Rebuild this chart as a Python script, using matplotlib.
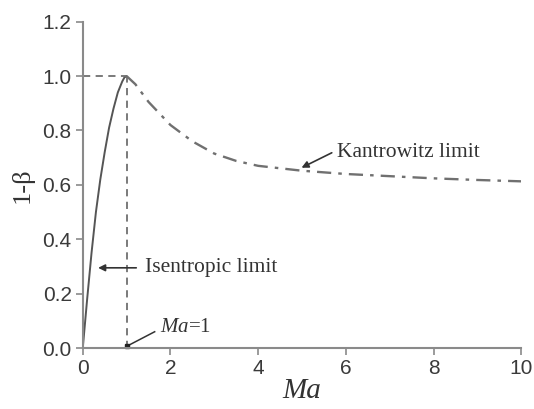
import matplotlib
matplotlib.use("Agg")
import matplotlib.pyplot as plt

plt.rcParams["mathtext.fontset"] = "custom"
plt.rcParams["mathtext.it"] = "Liberation Serif:italic"
plt.rcParams["mathtext.rm"] = "Liberation Serif"

# Isentropic limit
isen_ma = [0.0, 0.1, 0.2, 0.3, 0.4, 0.5, 0.6, 0.7, 0.8, 0.9, 0.95, 1.0]
isen_y = [0.0, 0.18, 0.35, 0.50, 0.62, 0.72, 0.81, 0.88, 0.94, 0.98, 0.995, 1.0]

# Kantrowitz limit
kant_ma = [1.0, 1.2, 1.5, 2.0, 2.5, 3.0, 3.5, 4.0, 5.0, 6.0, 7.0, 7.5, 8.0, 9.0, 10.0]
kant_y = [1.0, 0.97, 0.905, 0.82, 0.76, 0.715, 0.688, 0.67, 0.652, 0.640, 0.632, 0.628, 0.624, 0.618, 0.613]

xticks = [0, 2, 4, 6, 8, 10]
yticks = [0.0, 0.2, 0.4, 0.6, 0.8, 1.0, 1.2]

fig = plt.figure(figsize=(5.34, 4.09), dpi=100)
ax = fig.add_axes([0.155, 0.149, 0.821, 0.798])

spine_c = "#8a8a8a"
ax.plot(isen_ma, isen_y, color="#555555", lw=1.4, solid_capstyle="round")
ax.plot(kant_ma, kant_y, color="#707070", lw=1.7, linestyle=(0, (6, 3, 1.5, 3)))
ax.plot([0, 1], [1, 1], color="#707070", lw=1.3, linestyle=(0, (4, 3)))
ax.plot([1, 1], [0, 1], color="#707070", lw=1.3, linestyle=(0, (4, 3)))

ax.set_xlim(0, 10)
ax.set_ylim(0, 1.2)
ax.set_xticks(xticks)
ax.set_yticks(yticks)
ax.set_xticklabels([str(t) for t in xticks])
ax.set_yticklabels([f"{t:.1f}" for t in yticks])

for s in ["top", "right"]:
    ax.spines[s].set_visible(False)
for s in ["left", "bottom"]:
    ax.spines[s].set_color(spine_c)
    ax.spines[s].set_linewidth(1.5)
ax.tick_params(direction="out", length=5, width=1.2, color=spine_c,
               labelsize=15, labelcolor="#3a3a3a", pad=3)
for lab in ax.get_xticklabels() + ax.get_yticklabels():
    lab.set_family("Liberation Sans")

ax.set_xlabel("Ma", fontsize=21, family="Liberation Serif", style="italic",
              color="#333333", labelpad=0)
ax.set_ylabel("1-β", fontsize=19, family="Liberation Serif", color="#333333",
              labelpad=6)

serif = "Liberation Serif"
ax.annotate("", xy=(4.99, 0.663), xytext=(5.68, 0.718),
            arrowprops=dict(arrowstyle="-|>", color="#333333", lw=1.2,
                            mutation_scale=10, shrinkA=0, shrinkB=0))
ax.text(5.79, 0.72, "Kantrowitz limit", fontsize=15.5, family=serif,
        color="#333333", va="center", ha="left")

ax.annotate("", xy=(0.35, 0.295), xytext=(1.22, 0.295),
            arrowprops=dict(arrowstyle="-|>", color="#333333", lw=1.2,
                            mutation_scale=10, shrinkA=0, shrinkB=0))
ax.text(1.42, 0.295, "Isentropic limit", fontsize=15.5, family=serif,
        color="#333333", va="center", ha="left")

ax.plot([1.02, 1.64], [0.008, 0.06], color="#333333", lw=1.1, clip_on=False)
ax.plot([1.02], [0.008], marker="s", ms=3, color="#222222", clip_on=False)
ax.text(1.76, 0.075, "$\\mathit{Ma}$=1", fontsize=15, family=serif,
        color="#333333", va="center", ha="left")

fig.savefig("out.png", dpi=100)
